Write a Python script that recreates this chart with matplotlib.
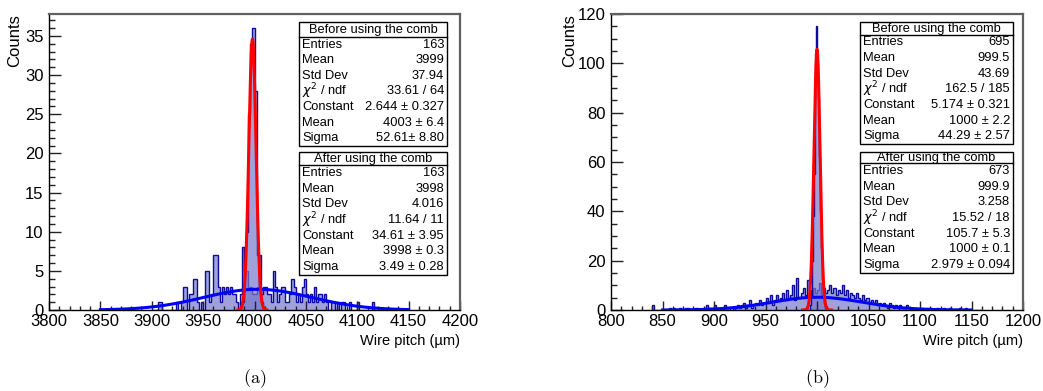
import numpy as np
import matplotlib
matplotlib.use('Agg')
import matplotlib.pyplot as plt
from matplotlib.ticker import MultipleLocator
from matplotlib.patches import Rectangle
from matplotlib.lines import Line2D

plt.rcParams['font.family'] = ['Liberation Sans', 'DejaVu Sans']

# ---- panel (a) data ----
a_before_start = 3900
a_before_width = 2
a_before_counts = [0, 0, 0, 1, 1, 0, 0, 0, 0, 0,
                   0, 0, 1, 0, 1, 3, 3, 0, 2, 2,
                   4, 4, 1, 0, 1, 0, 5, 5, 1, 2,
                   7, 7, 3, 1, 3, 2, 3, 2, 3, 2,
                   2, 1, 0, 2, 8, 5, 5, 3, 3, 2,
                   2, 3, 7, 2, 3, 3, 2, 2, 1, 5,
                   3, 1, 2, 3, 3, 1, 1, 2, 4, 3,
                   1, 2, 1, 3, 4, 2, 1, 2, 1, 3,
                   1, 2, 2, 1, 2, 1, 0, 1, 1, 0,
                   1, 0, 1, 1, 0, 0, 1, 0, 0, 0,
                   1, 0, 0, 0, 0, 0, 0, 1, 0, 0]
a_after_start = 3986
a_after_width = 2
a_after_counts = [1, 1, 8, 10, 25, 34, 36, 28, 7, 3, 1]
a_fit_before = (2.644, 4003, 52.61)
a_fit_before_range = (3850, 4150)
a_fit_after = (34.61, 3998, 3.49)
a_fit_after_range = (3984, 4012)

# ---- panel (b) data ----
b_before_start = 840
b_before_width = 2
b_before_counts = [2, 0, 0, 0, 0, 0, 0, 0, 1, 0,
                   1, 0, 0, 1, 0, 0, 1, 1, 0, 0,
                   0, 1, 0, 0, 0, 1, 2, 1, 1, 1,
                   2, 1, 1, 0, 1, 2, 1, 1, 0, 1,
                   1, 2, 1, 2, 3, 1, 2, 4, 1, 2,
                   3, 2, 4, 2, 3, 5, 3, 6, 2, 4,
                   6, 4, 5, 7, 4, 8, 5, 6, 10, 4,
                   13, 5, 7, 9, 6, 12, 8, 6, 9, 7,
                   8, 11, 6, 9, 7, 8, 10, 7, 9, 6,
                   8, 7, 10, 6, 8, 5, 7, 6, 5, 7,
                   5, 4, 6, 4, 5, 3, 4, 3, 4, 2,
                   3, 2, 3, 2, 1, 3, 2, 1, 2, 1,
                   2, 1, 1, 2, 1, 0, 1, 1, 1, 0,
                   1, 1, 0, 1, 0, 1, 0, 0, 1, 0,
                   0, 1, 0, 0, 1, 0, 0, 0, 0, 1,
                   0, 0, 1, 0, 0, 0, 0, 0, 0, 0]
b_after_start = 993
b_after_width = 1
b_after_counts = [2, 6, 20, 38, 55, 96, 115, 100, 86, 62, 40, 25, 12, 6, 3, 1]
b_fit_before = (5.174, 1000, 44.29)
b_fit_before_range = (850, 1150)
b_fit_after = (105.7, 1000, 2.979)
b_fit_after_range = (986, 1014)

chi = r'$\chi^{2}$ / ndf'
a_before_stats = [("Entries", "163"), ("Mean", "3999"), ("Std Dev", "37.94"), (chi, "33.61 / 64"),
                  ("Constant", "2.644 \u00b1 0.327"), ("Mean", "4003 \u00b1 6.4"), ("Sigma", "52.61\u00b1 8.80")]
a_after_stats = [("Entries", "163"), ("Mean", "3998"), ("Std Dev", "4.016"), (chi, "11.64 / 11"),
                 ("Constant", "34.61 \u00b1 3.95"), ("Mean", "3998 \u00b1 0.3"), ("Sigma", "3.49 \u00b1 0.28")]
b_before_stats = [("Entries", "695"), ("Mean", "999.5"), ("Std Dev", "43.69"), (chi, "162.5 / 185"),
                  ("Constant", "5.174 \u00b1 0.321"), ("Mean", "1000 \u00b1 2.2"), ("Sigma", "44.29 \u00b1 2.57")]
b_after_stats = [("Entries", "673"), ("Mean", "999.9"), ("Std Dev", "3.258"), (chi, "15.52 / 18"),
                 ("Constant", "105.7 \u00b1 5.3"), ("Mean", "1000 \u00b1 0.1"), ("Sigma", "2.979 \u00b1 0.094")]

W, H = 1043, 391
fig = plt.figure(figsize=(W / 100, H / 100), dpi=100)


def fx(px):
    return px / W


def fy(py):
    return 1 - py / H


def gauss(x, c, m, s):
    return c * np.exp(-0.5 * ((x - m) / s) ** 2)


def draw_hist(ax, start, width, counts):
    counts = np.array(counts, dtype=float)
    edges = start + width * np.arange(len(counts) + 1)
    ax.stairs(counts, edges, fill=True, color='#7878cc', alpha=0.7, lw=0)
    ax.stairs(counts, edges, color='#0c0c9c', lw=1.0)


def draw_fit(ax, pars, rng, color):
    x = np.linspace(rng[0], rng[1], 400)
    ax.plot(x, gauss(x, *pars), color=color, lw=2.2, zorder=5)


def style_axes(ax, xlim, ymax, ymaj, ymin):
    ax.set_xlim(*xlim)
    ax.set_ylim(0, ymax)
    ax.xaxis.set_major_locator(MultipleLocator(50))
    ax.xaxis.set_minor_locator(MultipleLocator(10))
    ax.yaxis.set_major_locator(MultipleLocator(ymaj))
    ax.yaxis.set_minor_locator(MultipleLocator(ymin))
    ax.tick_params(which='both', direction='in', top=False, right=False,
                   labelsize=12, width=1, color='#222222')
    ax.tick_params(axis='y', which='major', length=8.6, pad=4)
    ax.tick_params(axis='y', which='minor', length=4.3)
    ax.tick_params(axis='x', which='major', length=6.5, pad=3)
    ax.tick_params(axis='x', which='minor', length=3.2)
    for s in ['left', 'bottom']:
        ax.spines[s].set_color('black')
        ax.spines[s].set_linewidth(1)
    for s in ['top', 'right']:
        ax.spines[s].set_color('#606060')
        ax.spines[s].set_linewidth(1.6)
    ax.set_xlabel('Wire pitch (\u00b5m)', fontsize=10.5, loc='right')
    ax.xaxis.label.set_va('center')
    ax.xaxis.set_label_coords(1.0, -0.105)
    ax.set_ylabel('Counts', fontsize=12, loc='top')


def stat_box(x0, y0, yt, x1, y1, title, rows):
    fig.add_artist(Rectangle((fx(x0), fy(y1)), fx(x1) - fx(x0), fy(y0) - fy(y1),
                             transform=fig.transFigure, facecolor='white',
                             edgecolor='black', lw=1, zorder=3))
    fig.add_artist(Line2D([fx(x0), fx(x1)], [fy(yt), fy(yt)], transform=fig.transFigure,
                          color='black', lw=1, zorder=4))
    fig.text(fx((x0 + x1) / 2), fy((y0 + yt) / 2 + 0.5), title, ha='center', va='center',
             fontsize=9.3, zorder=5)
    h = (y1 - yt) / len(rows)
    for i, (lab, val) in enumerate(rows):
        yc = yt + (i + 0.5) * h
        fig.text(fx(x0 + 3), fy(yc), lab, ha='left', va='center', fontsize=9.3, zorder=5)
        fig.text(fx(x1 - 3), fy(yc), val, ha='right', va='center', fontsize=9.3, zorder=5)


# panel (a)
ax1 = fig.add_axes([fx(49), fy(310), fx(460) - fx(49), fy(14) - fy(310)])
draw_hist(ax1, a_before_start, a_before_width, a_before_counts)
draw_hist(ax1, a_after_start, a_after_width, a_after_counts)
draw_fit(ax1, a_fit_before, a_fit_before_range, '#0000ff')
draw_fit(ax1, a_fit_after, a_fit_after_range, '#ff0000')
style_axes(ax1, (3800, 4200), 37.8, 5, 1)
ax1.yaxis.set_label_coords(-0.066, 1.0)

# panel (b)
ax2 = fig.add_axes([fx(611), fy(310), fx(1023) - fx(611), fy(14) - fy(310)])
draw_hist(ax2, b_before_start, b_before_width, b_before_counts)
draw_hist(ax2, b_after_start, b_after_width, b_after_counts)
draw_fit(ax2, b_fit_before, b_fit_before_range, '#0000ff')
draw_fit(ax2, b_fit_after, b_fit_after_range, '#ff0000')
style_axes(ax2, (800, 1200), 120, 20, 5)
ax2.yaxis.set_label_coords(-0.083, 1.0)

stat_box(299, 22, 36.7, 447, 146, 'Before using the comb', a_before_stats)
stat_box(299, 152, 165, 447, 275, 'After using the comb', a_after_stats)
stat_box(860, 22, 34.5, 1013, 144, 'Before using the comb', b_before_stats)
stat_box(860, 152, 163, 1013, 273, 'After using the comb', b_after_stats)

fig.text(fx(254.5), fy(379), r'$\mathrm{(a)}$', ha='center', va='center', fontsize=13,
         math_fontfamily='cm')
fig.text(fx(817), fy(379), r'$\mathrm{(b)}$', ha='center', va='center', fontsize=13,
         math_fontfamily='cm')

fig.savefig('out.png', dpi=100)
